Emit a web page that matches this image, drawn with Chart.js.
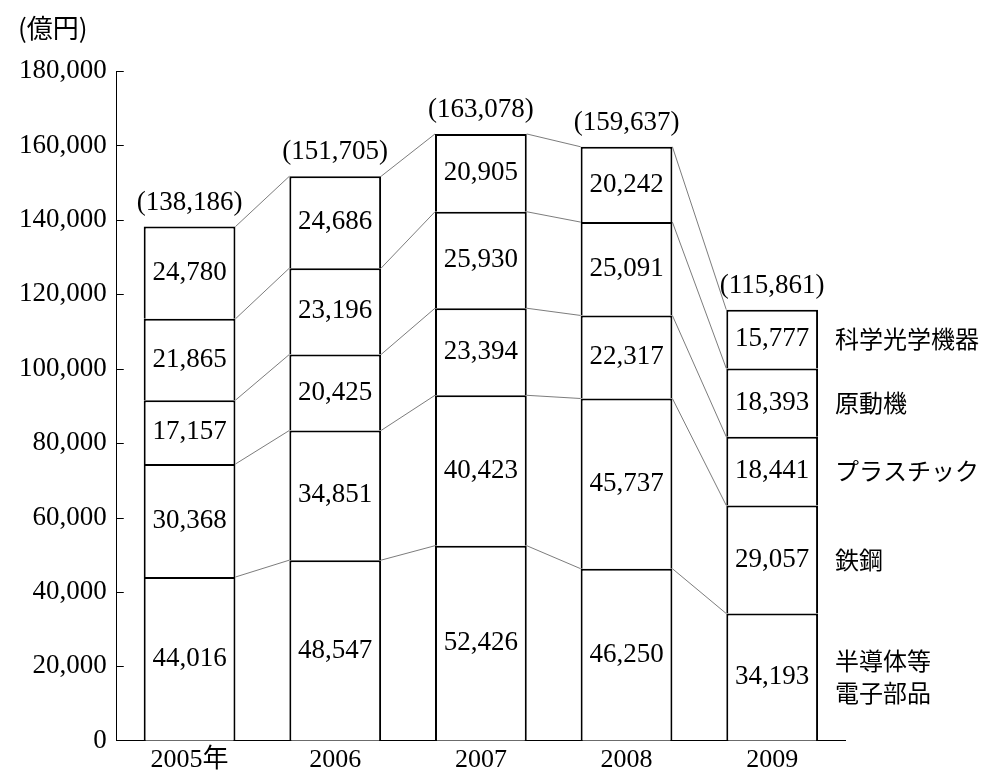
<!DOCTYPE html>
<html>
<head>
<meta charset="utf-8">
<script src="https://cdn.jsdelivr.net/npm/chart.js@4"></script>
<style>
    html, body { margin: 0; padding: 0; background: #fff; }
    #wrap { position: relative; width: 994px; height: 781px; }
</style>
</head>
<body>
<div id="wrap"><canvas id="chart"></canvas></div>
<script>
const years = ["2005年", "2006", "2007", "2008", "2009"];
const seriesNames = ["半導体等\n電子部品", "鉄鋼", "プラスチック", "原動機", "科学光学機器"];

const semiconductor = [44016, 48547, 52426, 46250, 34193];
const steel         = [30368, 34851, 40423, 45737, 29057];
const plastic       = [17157, 20425, 23394, 22317, 18441];
const engines       = [21865, 23196, 25930, 25091, 18393];
const optical       = [24780, 24686, 20905, 20242, 15777];
const totals        = [138186, 151705, 163078, 159637, 115861];

const yTicks = [0, 20000, 40000, 60000, 80000, 100000, 120000, 140000, 160000, 180000];

const numFont = "'Liberation Serif', 'DejaVu Serif', serif";
const jpFont = "'Liberation Serif', 'Noto Sans CJK JP', sans-serif";

const fmt = v => v.toLocaleString("en-US");

const seriesValues = [semiconductor, steel, plastic, engines, optical];

// ticks on the inner side, connector lines, labels
const decorPlugin = {
    id: "decor",
    afterDatasetsDraw(chart) {
        const ctx = chart.ctx;
        const x = chart.scales.x;
        const y = chart.scales.y;
        const area = chart.chartArea;

        ctx.save();
        ctx.strokeStyle = "#000";
        ctx.lineWidth = 1;

        // inner ticks
        yTicks.forEach(t => {
            if (t === 0) return;
            const py = Math.round(y.getPixelForValue(t)) + 0.5;
            ctx.beginPath();
            ctx.moveTo(area.left, py);
            ctx.lineTo(area.left + 7, py);
            ctx.stroke();
        });

        // connector lines between neighbouring bars
        const metas = seriesValues.map((_, i) => chart.getDatasetMeta(i));
        ctx.strokeStyle = "#444";
        ctx.lineWidth = 0.7;
        for (let c = 0; c < years.length - 1; c++) {
            let cumA = 0, cumB = 0;
            seriesValues.forEach((vals, s) => {
                cumA += vals[c];
                cumB += vals[c + 1];
                const barA = metas[s].data[c];
                const barB = metas[s].data[c + 1];
                const xa = barA.x + barA.width / 2;
                const xb = barB.x - barB.width / 2;
                ctx.beginPath();
                ctx.moveTo(xa, y.getPixelForValue(cumA));
                ctx.lineTo(xb, y.getPixelForValue(cumB));
                ctx.stroke();
            });
        }

        // values inside segments
        ctx.fillStyle = "#000";
        ctx.textAlign = "center";
        ctx.textBaseline = "middle";
        ctx.font = "27px " + numFont;
        for (let c = 0; c < years.length; c++) {
            let cum = 0;
            seriesValues.forEach(vals => {
                const mid = cum + vals[c] / 2;
                cum += vals[c];
                ctx.fillText(fmt(vals[c]), x.getPixelForValue(c), y.getPixelForValue(mid));
            });
            ctx.fillText("(" + fmt(totals[c]) + ")", x.getPixelForValue(c), y.getPixelForValue(cum) - 24);
        }

        // series names to the right of the last bar
        ctx.textAlign = "left";
        ctx.font = "24px 'Noto Sans CJK JP', sans-serif";
        const last = years.length - 1;
        let cum = 0;
        seriesValues.forEach((vals, s) => {
            const mid = cum + vals[last] / 2;
            cum += vals[last];
            const lines = seriesNames[s].split("\n");
            const py = y.getPixelForValue(mid);
            lines.forEach((ln, i) => {
                ctx.fillText(ln, 835, py + (i - (lines.length - 1) / 2) * 32);
            });
        });

        // unit
        ctx.font = "26px 'Noto Sans CJK JP', sans-serif";
        ctx.fillText("(億円)", 18, 28);

        ctx.restore();
    }
};

new Chart(document.getElementById("chart"), {
    type: "bar",
    data: {
        labels: years,
        datasets: seriesValues.map((vals, i) => ({
            label: seriesNames[i],
            data: vals,
            backgroundColor: "#fff",
            borderColor: "#000",
            borderWidth: { top: 2, left: 2, right: 2, bottom: 0 },
            borderSkipped: false,
            barPercentage: 0.63,
            categoryPercentage: 1
        }))
    },
    options: {
        responsive: true,
        maintainAspectRatio: false,
        animation: false,
        layout: { padding: { left: 9, right: 149, top: 71, bottom: 1 } },
        plugins: { legend: { display: false }, tooltip: { enabled: false } },
        scales: {
            x: {
                stacked: true,
                grid: { display: false, drawTicks: false },
                border: { display: true, color: "#000", width: 1 },
                ticks: { color: "#000", font: { family: jpFont, size: 26 }, padding: 4 }
            },
            y: {
                stacked: true,
                min: 0,
                max: 180000,
                afterBuildTicks: scale => { scale.ticks = yTicks.map(v => ({ value: v })); },
                grid: { display: false, drawTicks: false },
                border: { display: true, color: "#000", width: 1 },
                ticks: { color: "#000", font: { family: numFont, size: 27 }, padding: 10, callback: v => fmt(v) }
            }
        }
    },
    plugins: [decorPlugin]
});
</script>
</body>
</html>
